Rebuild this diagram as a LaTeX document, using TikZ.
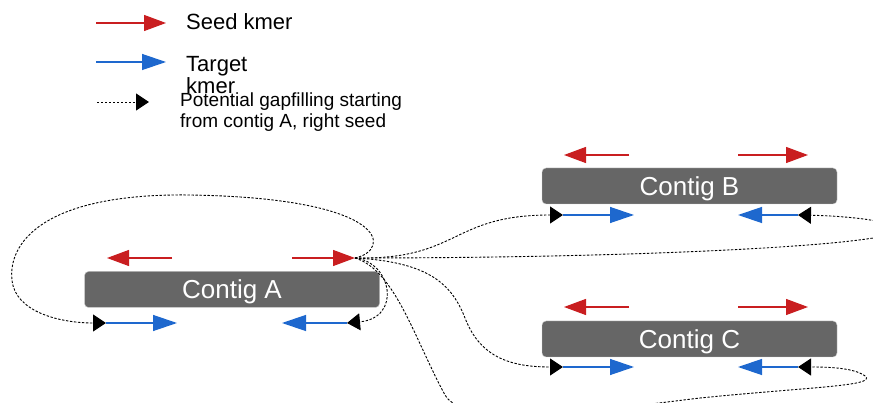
\documentclass[tikz,border=0pt]{standalone}
\usepackage{fontspec}
\setmainfont{Liberation Sans}
\usetikzlibrary{arrows.meta}
\definecolor{seedred}{RGB}{201,30,32}
\definecolor{tgtblue}{RGB}{30,104,206}
\definecolor{contiggray}{RGB}{102,102,102}
\tikzset{
  contig/.style={draw=black!20, fill=contiggray, rounded corners=4pt, minimum width=295pt, minimum height=36pt, inner sep=0pt, text height=19pt, text depth=0pt, text=white, font=\fontsize{26}{28}\selectfont},
  seedarrow/.style={draw=seedred, line width=1.3pt, -{Triangle[length=22pt,width=16pt]}},
  tgtarrow/.style={draw=tgtblue, line width=1.3pt, -{Triangle[length=24pt,width=16pt]}},
  gapfill/.style={draw=black, line width=0.9pt, dash pattern=on 2.4pt off 1.6pt, -{Triangle[length=13pt,width=17pt]}},
  legtext/.style={anchor=base west, inner sep=0pt, align=left}
}
\begin{document}
\begin{tikzpicture}[x=1pt,y=-1pt]
\useasboundingbox (0,0) rectangle (873,403);
% legend
\coordinate (l1a) at (96,23); \coordinate (l1b) at (166,23);
\coordinate (l2a) at (96,62); \coordinate (l2b) at (166,62);
\coordinate (l3a) at (97,102); \coordinate (l3b) at (149,102);
\draw[seedarrow] (l1a) -- (l1b);
\draw[tgtarrow] (l2a) -- (l2b);
\draw[gapfill] (l3a) -- (l3b);
\node[legtext, font=\fontsize{22}{26}\selectfont] (t1) at (186,30) {Seed kmer};
\node[legtext, font=\fontsize{22}{26}\selectfont] (t2) at (186,94) {Target\\[-4pt]kmer};
\node[legtext, font=\fontsize{19}{21}\selectfont] (t3) at (180,128) {Potential gapfilling starting\\from contig A, right seed};
% contigs
\node[contig] (A) at (232,289.5) {Contig A};
\node[contig] (B) at (689.5,186) {Contig B};
\node[contig] (C) at (689.5,339) {Contig C};
% seed arrows
\draw[seedarrow] (172,258) coordinate (asl) -- (107,258) coordinate (asltip);
\draw[seedarrow] (292,258) coordinate (asr) -- (355,258) coordinate (S);
\draw[seedarrow] (629,155) coordinate (bsl) -- (564,155) coordinate (bsltip);
\draw[seedarrow] (738,155) coordinate (bsr) -- (808,155) coordinate (bsrtip);
\draw[seedarrow] (629,307) coordinate (csl) -- (564,307) coordinate (csltip);
\draw[seedarrow] (738,307) coordinate (csr) -- (808,307) coordinate (csrtip);
% target anchors
\coordinate (aL) at (106,323); \coordinate (aR) at (347,323);
\coordinate (bL) at (563,215); \coordinate (bR) at (798,215);
\coordinate (cL) at (563,367); \coordinate (cR) at (798,367);
% target arrows
\draw[tgtarrow] (aL) -- (177,323) coordinate (aLtip);
\draw[tgtarrow] (aR) -- (282,323) coordinate (aRtip);
\draw[tgtarrow] (bL) -- (634,215) coordinate (bLtip);
\draw[tgtarrow] (bR) -- (738,215) coordinate (bRtip);
\draw[tgtarrow] (cL) -- (634,367) coordinate (cLtip);
\draw[tgtarrow] (cR) -- (738,367) coordinate (cRtip);
% gapfilling paths
\draw[gapfill] (S) .. controls (392,250) and (390,198) .. (190,195)
  .. controls (40,193) and (8,245) .. (12,280)
  .. controls (15,312) and (60,323) .. (aL);
\draw[gapfill] (S) .. controls (392,262) and (402,318) .. (aR);
\draw[gapfill] (S) .. controls (460,260) and (450,215) .. (bL);
\draw[gapfill] (S) .. controls (650,258) and (880,245) .. (895,232)
  .. controls (905,222) and (850,216) .. (bR);
\draw[gapfill] (S) .. controls (430,262) and (452,285) .. (465,318)
  .. controls (480,357) and (510,367) .. (cL);
\draw[gapfill] (S) .. controls (395,270) and (415,340) .. (445,395)
  .. controls (465,430) and (600,410) .. (700,398)
  .. controls (820,386) and (885,386) .. (862,374)
  .. controls (850,368) and (830,367) .. (cR);
\end{tikzpicture}
\end{document}
